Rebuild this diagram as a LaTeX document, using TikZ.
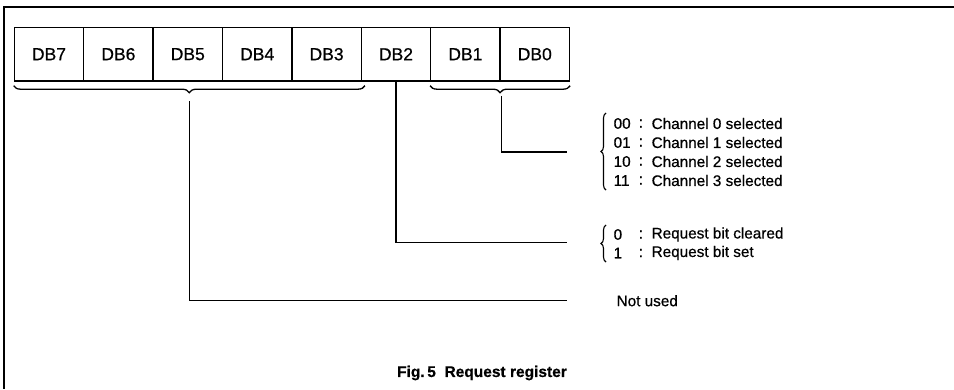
\documentclass[tikz,border=0pt]{standalone}
\usepackage{fontspec}
\setmainfont{Liberation Sans}[FakeBold=0.6]
\usetikzlibrary{decorations.pathreplacing}
\begin{document}
\begin{tikzpicture}[x=1pt,y=-1pt,line width=1.3pt,
  cell/.style={draw,minimum width=69.4pt,minimum height=53.7pt,inner sep=0pt,
    font=\fontsize{17.5}{19}\selectfont},
  ubrace/.style={decorate,decoration={brace,mirror,amplitude=7pt}},
  lbrace/.style={decorate,decoration={brace,amplitude=5pt},line width=1.1pt},
  rowtxt/.style={anchor=west,inner sep=0pt,font=\fontsize{15.3}{17}\selectfont},
  conn/.style={line width=1.3pt}]
\useasboundingbox (0,0) rectangle (954,389);
% frame
\draw[line width=1.4pt] (954,7) -- (4,7) -- (4,389);
% register cells
\foreach \i/\n in {0/7,1/6,2/5,3/4,4/3,5/2,6/1,7/0}{
  \node[cell] (db\n) at ({14.3+69.4*(\i+0.5)},54.2) {DB\n};
}
% under braces
\draw[ubrace] ([yshift=-4pt]db7.south west) coordinate (b1l) -- ([xshift=3pt,yshift=-4pt]db3.south east) coordinate (b1r);
\draw[ubrace] ([yshift=-4pt]db1.south west) coordinate (b2l) -- ([yshift=-4pt]db0.south east) coordinate (b2r);
\coordinate (t1) at (189.3,101);
\coordinate (t2) at (501.7,96);
% code braces
\draw[lbrace] (606,190) coordinate (cb1) -- (606,113) coordinate (cb2);
\draw[lbrace] (606,262) coordinate (rb1) -- (606,225) coordinate (rb2);
% texts
\foreach \k/\c/\y in {0/00/123.5,1/01/142.5,2/10/161.5,3/11/180.5}{
  \node[rowtxt] (code\c) at (613,\y) {\c};
  \node[rowtxt] at (638,\y) {:};
  \node[rowtxt] (ch\k) at (651,\y) {Channel \k\ selected};
}
\node[rowtxt] (rq0) at (613,234.5) {0};
\node[rowtxt] at (638,234.5) {:};
\node[rowtxt] at (651,234.5) {Request bit cleared};
\node[rowtxt] (rq1) at (613,253) {1};
\node[rowtxt] at (638,253) {:};
\node[rowtxt] at (651,253) {Request bit set};
\node[rowtxt] (nu) at (616,300.7) {Not used};
% line ends
\coordinate (e1) at (567,152);
\coordinate (e2) at (567,242.7);
\coordinate (e3) at (567,300.7);
% connectors
\draw[conn] (t2) |- (e1);
\draw[conn] (db2.south) |- (e2);
\draw[conn] (t1) |- (e3);
% caption
\node[font=\bfseries\fontsize{15.5}{17}\selectfont] (cap) at (482,373) {Fig.\,5\ \ Request register};
\end{tikzpicture}
\end{document}
